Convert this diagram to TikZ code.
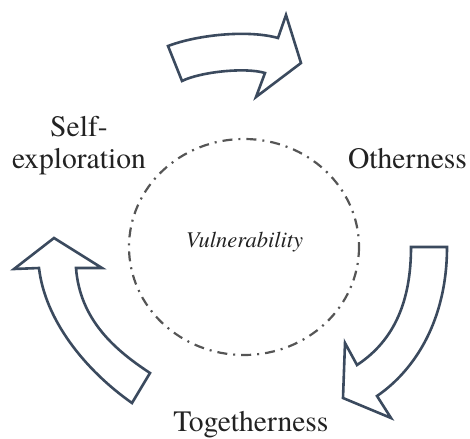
\documentclass[tikz,border=0pt]{standalone}
\usepackage{fontspec}
\setmainfont{texgyretermes}[Extension=.otf,UprightFont=*-regular,ItalicFont=*-italic,BoldFont=*-bold]
\begin{document}
\begin{tikzpicture}[x=1pt,y=-1pt,
  arrowshape/.style={draw=arrowcol,line width=2.6pt,line join=miter,fill=white},
  label/.style={text=txtcol,font=\fontsize{29.6}{32}\selectfont,inner sep=0pt,align=center},
  ring/.style={draw=ringcol,line width=2.2pt,dash pattern=on 10pt off 6pt on 2pt off 6pt}]
\definecolor{arrowcol}{HTML}{3B4A5E}
\definecolor{ringcol}{HTML}{555555}
\definecolor{txtcol}{HTML}{222222}
\useasboundingbox (0,0) rectangle (470,438);
% ring
\draw[ring] (244,247) ellipse [x radius=115, y radius=108];
\node[text=txtcol,font=\itshape\fontsize{22.5}{24}\selectfont,anchor=base,inner sep=0pt] (vul) at (244.5,247) {Vulnerability};
% top arrow
\draw[arrowshape] (168,46) .. controls (200,34) and (250,30) .. (278,38)
  -- (286,15) -- (301,63) -- (256,97) -- (265,73)
  .. controls (245,67) and (200,72) .. (182,81) -- cycle;
% right arrow
\draw[arrowshape] (411,247) -- (447,247) .. controls (447,320) and (415,370) .. (377,396)
  -- (391,418) -- (343,398) -- (345,343) -- (357,365)
  .. controls (395,340) and (411,300) .. cycle;
% left arrow
\draw[arrowshape] (54,238) -- (102,268) -- (76,268) .. controls (80,320) and (115,350) .. (150,373)
  -- (132,403) .. controls (85,370) and (45,320) .. (39,268) -- (14,269) -- cycle;
% labels
\node[label,anchor=base] (self) at (79,137) {Self-};
\node[label,anchor=base] (expl) at (79,169) {exploration};
\node[label,anchor=base] (oth) at (407.5,169) {Otherness};
\node[label,anchor=base] (tog) at (251,431) {Togetherness};
\end{tikzpicture}
\end{document}
